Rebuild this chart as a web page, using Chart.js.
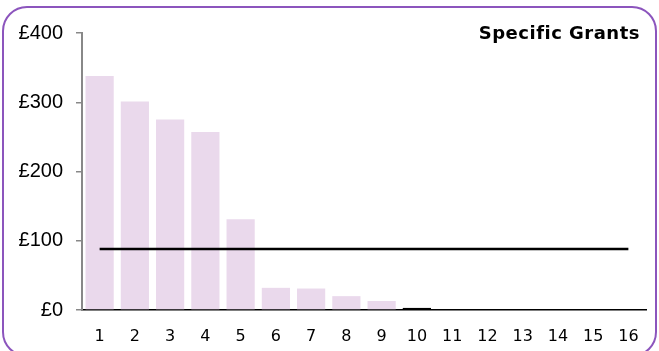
<!DOCTYPE html>
<html>
<head>
<meta charset="utf-8">
<script src="https://cdn.jsdelivr.net/npm/chart.js@4/dist/chart.umd.min.js"></script>
<style>
  html, body { margin: 0; padding: 0; background: #fff; overflow: hidden; }
  #wrap { position: relative; width: 659px; height: 351px; overflow: hidden; }
  #frame {
    position: absolute; left: 2px; top: 6px; width: 651px; height: 347px;
    border: 2px solid #8c55bd; border-radius: 25px; pointer-events: none;
  }
  canvas { position: absolute; left: 0; top: 0; }
</style>
</head>
<body>
<div id="wrap">
  <canvas id="grantsChart" width="659" height="351"></canvas>
  <div id="frame"></div>
</div>
<script>
const categories = ['1', '2', '3', '4', '5', '6', '7', '8', '9', '10', '11', '12', '13', '14', '15', '16'];
const grantValues = [338, 301, 275, 257, 131, 32, 31, 20, 13, 3, 0, 0, 0, 0, 0, 0];
const averageLine = [88, 88, 88, 88, 88, 88, 88, 88, 88, 88, 88, 88, 88, 88, 88, 88];
const highlightIndex = 9;
const yTicks = [0, 100, 200, 300, 400];
const chartTitle = 'Specific Grants';

const barColors = grantValues.map((v, i) => i === highlightIndex ? '#000000' : '#ead9ec');

const titlePlugin = {
  id: 'cornerTitle',
  afterDraw(chart) {
    const c = chart.ctx;
    c.save();
    c.font = 'bold 18px "DejaVu Sans", Verdana, sans-serif';
    c.letterSpacing = '0.5px';
    c.fillStyle = '#000';
    c.textAlign = 'right';
    c.textBaseline = 'alphabetic';
    c.fillText(chartTitle, 640, 39);
    c.restore();
  }
};

const ctx = document.getElementById('grantsChart').getContext('2d');
const grantsChart = new Chart(ctx, {
  type: 'bar',
  data: {
    labels: categories,
    datasets: [
      {
        type: 'line',
        label: 'Average',
        data: averageLine,
        borderColor: '#000',
        borderWidth: 2.5,
        pointRadius: 0,
        fill: false,
        order: 0
      },
      {
        label: 'Specific Grants',
        data: grantValues,
        backgroundColor: barColors,
        borderWidth: 0,
        categoryPercentage: 1,
        barPercentage: 0.8,
        order: 1
      }
    ]
  },
  options: {
    responsive: false,
    animation: false,
    layout: { padding: { left: 0, right: 13, top: 33, bottom: 0 } },
    plugins: {
      legend: { display: false },
      tooltip: { enabled: false }
    },
    scales: {
      x: {
        grid: { display: false },
        border: { color: '#000', width: 1.5 },
        ticks: {
          color: '#000',
          padding: 9,
          font: { family: '"DejaVu Sans", Verdana, sans-serif', size: 16 }
        },
        afterFit(scale) { scale.height = 41; }
      },
      y: {
        min: 0,
        max: 400,
        afterBuildTicks(scale) { scale.ticks = yTicks.map(v => ({ value: v })); },
        grid: { drawOnChartArea: false, tickLength: 6, color: '#888', lineWidth: 1.5 },
        border: { color: '#888', width: 2 },
        ticks: {
          color: '#000',
          padding: 13,
          font: { family: '"Liberation Sans", Arial, sans-serif', size: 20 },
          callback: v => '£' + v
        },
        afterFit(scale) { scale.width = 82; }
      }
    }
  },
  plugins: [titlePlugin]
});
</script>
</body>
</html>
